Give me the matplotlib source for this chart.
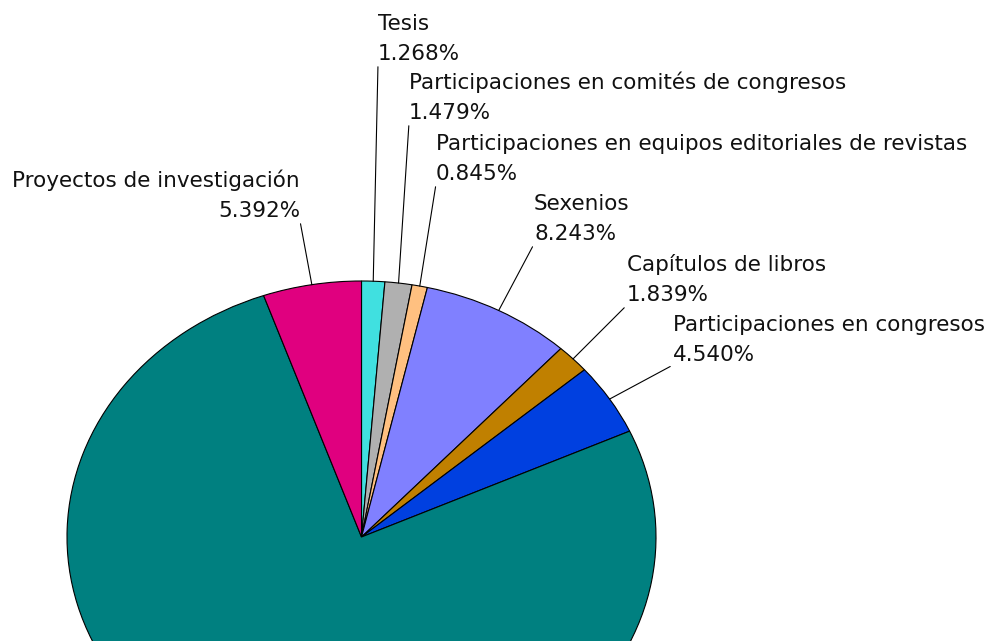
import matplotlib
matplotlib.use('Agg')
import matplotlib.pyplot as plt
import numpy as np

# categorias en el orden en que se dibujan (sentido horario desde las 12)
labels = ['Tesis',
          'Participaciones en comités de congresos',
          'Participaciones en equipos editoriales de revistas',
          'Sexenios',
          'Capítulos de libros',
          'Participaciones en congresos',
          'Resto',
          'Proyectos de investigación']
values = [1.268, 1.479, 0.845, 8.243, 1.839, 4.540, 76.394, 5.392]
colors = ['#40e0e0', '#b0b0b0', '#ffc080', '#8080ff', '#c08000',
          '#0040e0', '#008080', '#e0007f']
show_label = [True, True, True, True, True, True, False, True]

# posicion de cada etiqueta (pixeles de figura: x, linea base del porcentaje)
label_pos = [(378, 581), (409, 522), (436, 461), (534, 401),
             (627, 340), (673, 280), None, (300, 424)]

W, H = 1001, 641
fig = plt.figure(figsize=(W / 100, H / 100), dpi=100)
# la tarta sobresale por abajo de la figura
ax = fig.add_axes([67 / W, (641 - 793) / H, 589 / W, 512 / H])

wedges, _ = ax.pie(values, colors=colors, startangle=90, counterclock=False,
                   radius=1, wedgeprops=dict(edgecolor='black', linewidth=0.8))
ax.set_aspect('auto')
ax.set_xlim(-1, 1)
ax.set_ylim(-1, 1)
ax.axis('off')

font = dict(family='DejaVu Sans', size=15.5, color='#111111')
for w, lab, val, show, pos in zip(wedges, labels, values, show_label, label_pos):
    if not show:
        continue
    mid = np.deg2rad((w.theta1 + w.theta2) / 2)
    edge = (np.cos(mid), np.sin(mid))
    right = pos[0] < 361
    ha = 'right' if right else 'left'
    fig.text(pos[0] / W, (pos[1] + 30) / H, lab, ha=ha, va='baseline', **font)
    ax.annotate('%.3f%%' % val, xy=edge, xycoords='data',
                xytext=pos, textcoords='figure pixels',
                ha=ha, va='baseline', annotation_clip=False,
                arrowprops=dict(arrowstyle='-', color='black', lw=0.8,
                                shrinkA=0, shrinkB=0,
                                relpos=(1, 0) if right else (0, 0)),
                **font)

fig.savefig('out.png', dpi=100)
